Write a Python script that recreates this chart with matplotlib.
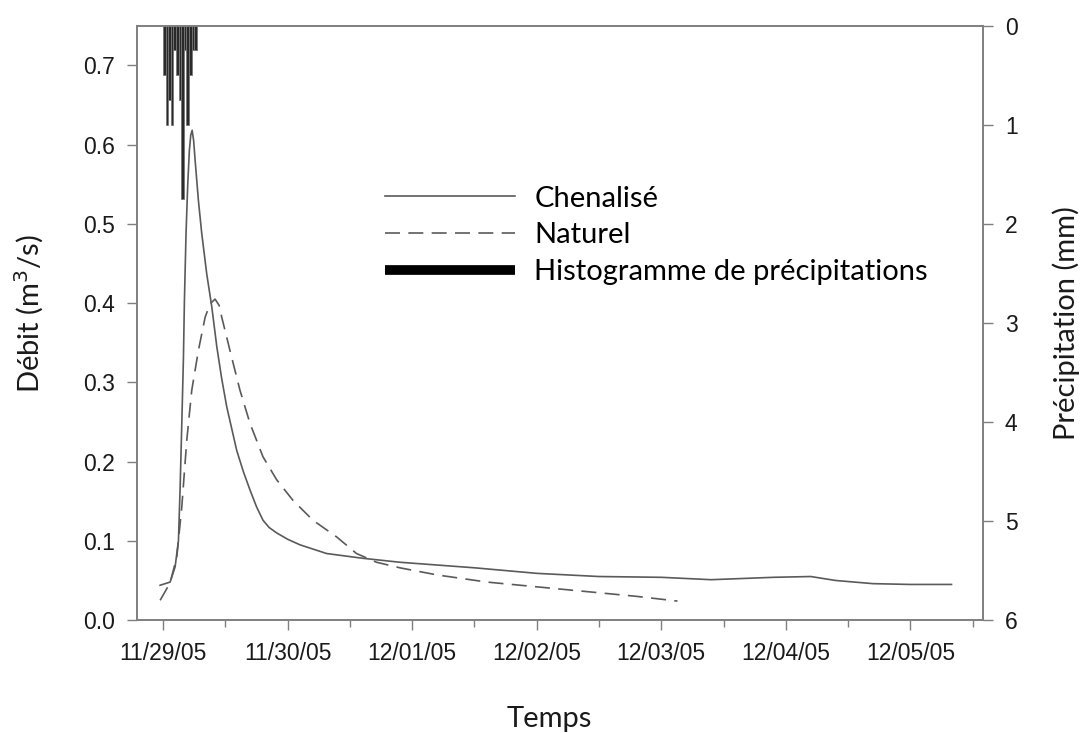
import matplotlib
matplotlib.use("Agg")
import matplotlib.pyplot as plt
from matplotlib.lines import Line2D

# Temps en jours depuis le 11/29/05 00:00
jours_chenalise = [-0.024, 0.056, 0.096, 0.123, 0.136, 0.150, 0.163, 0.171, 0.184, 0.198,
                   0.211, 0.222, 0.233, 0.245, 0.257, 0.283, 0.310, 0.350, 0.391, 0.431,
                   0.470, 0.511, 0.591, 0.645, 0.698, 0.750, 0.802, 0.850, 0.912, 1.000,
                   1.099, 1.313, 1.604, 1.901, 2.50, 3.00, 3.50, 4.00, 4.40, 4.90, 5.20,
                   5.40, 5.70, 6.00, 6.33]
debit_chenalise = [0.044, 0.048, 0.067, 0.100, 0.164, 0.248, 0.330, 0.403, 0.488, 0.551,
                   0.593, 0.612, 0.618, 0.605, 0.580, 0.530, 0.488, 0.437, 0.395, 0.345,
                   0.305, 0.269, 0.214, 0.187, 0.164, 0.143, 0.126, 0.117, 0.110, 0.102,
                   0.095, 0.084, 0.078, 0.073, 0.066, 0.059, 0.055, 0.054, 0.051, 0.054,
                   0.055, 0.050, 0.046, 0.045, 0.045]

jours_naturel = [-0.024, 0.056, 0.110, 0.150, 0.190, 0.230, 0.283, 0.337, 0.377, 0.417,
                 0.450, 0.471, 0.537, 0.617, 0.698, 0.802, 0.912, 1.043, 1.203, 1.393,
                 1.553, 1.714, 1.901, 2.20, 2.60, 3.00, 3.40, 3.80, 4.13]
debit_naturel = [0.025, 0.047, 0.080, 0.143, 0.227, 0.290, 0.340, 0.382, 0.399, 0.405,
                 0.397, 0.382, 0.340, 0.290, 0.248, 0.206, 0.177, 0.151, 0.126, 0.105,
                 0.084, 0.073, 0.066, 0.057, 0.048, 0.042, 0.036, 0.030, 0.024]

# Histogramme de précipitations (pas de 30 min)
heures_pluie = [0.0, 0.5, 1.0, 1.5, 2.0, 2.5, 3.0, 3.5, 4.0, 4.5, 5.0, 5.5, 6.0]
pluie_mm = [0.5, 1.0, 0.75, 1.0, 0.25, 0.5, 0.75, 1.75, 0.25, 1.0, 0.5, 0.25, 0.25]

dates = ["11/29/05", "11/30/05", "12/01/05", "12/02/05", "12/03/05", "12/04/05", "12/05/05"]

plt.rcParams['font.family'] = ['Liberation Sans', 'DejaVu Sans']
police_titres = 'Lato'
gris_axe = '#7f7f7f'
gris_courbe = '#5a5a5a'

fig = plt.figure(figsize=(10.87, 7.33), dpi=100)
ax = fig.add_axes([0.126, 0.154, 0.778, 0.811])
ax2 = ax.twinx()

# Courbes de débit
l1, = ax.plot(jours_chenalise, debit_chenalise, color=gris_courbe, linewidth=1.2, label="Chenalisé")
l2, = ax.plot(jours_naturel, debit_naturel, color=gris_courbe, linewidth=1.2,
              dashes=(9, 5), label="Naturel")

# Précipitations sur l'axe de droite (inversé)
x_pluie = [h / 24.0 for h in heures_pluie]
ax2.bar(x_pluie, pluie_mm, width=0.5 / 24.0, bottom=0, align='edge',
        color='#2a2a2a', edgecolor='#777777', linewidth=0.6)

ax.set_xlim(-0.21, 6.58)
ax.set_ylim(0, 0.75)
ax2.set_ylim(6, 0)

ax.set_xticks(range(len(dates)))
ax.set_xticklabels(dates)
ax.set_xticks([i + 0.5 for i in range(len(dates) - 1)] + [6.5], minor=True)
ax.set_yticks([0.0, 0.1, 0.2, 0.3, 0.4, 0.5, 0.6, 0.7])
ax.set_yticklabels(["0.0", "0.1", "0.2", "0.3", "0.4", "0.5", "0.6", "0.7"])
ax2.set_yticks(range(7))

for a in (ax, ax2):
    for s in a.spines.values():
        s.set_color(gris_axe)
        s.set_linewidth(1.2)
ax.tick_params(axis='both', which='major', length=7, width=1, color=gris_axe,
               labelsize=16.5, pad=9, labelcolor='#1a1a1a')
ax.tick_params(axis='x', which='minor', length=5, width=1, color=gris_axe)
ax2.tick_params(axis='y', length=7, width=1, color=gris_axe, labelsize=16.5, pad=9,
                labelcolor='#1a1a1a')

ax.set_xlabel("Temps", fontsize=21, family=police_titres, color='#1a1a1a')
ax.set_ylabel("Débit (m$^3$/s)", fontsize=21, family=police_titres, color='#1a1a1a')
ax2.set_ylabel("Précipitation (mm)", fontsize=21, family=police_titres, color='#1a1a1a')
ax.xaxis.set_label_coords(0.488, -0.145)
ax.yaxis.set_label_coords(-0.108, 0.516)
ax2.yaxis.set_label_coords(1.082, 0.5)

proxy = Line2D([], [], color='black', linewidth=7, solid_capstyle='butt')
ax2.legend([l1, l2, proxy], ["Chenalisé", "Naturel", "Histogramme de précipitations"],
           loc='upper left', bbox_to_anchor=(0.293, 0.731), frameon=False,
           borderpad=0, borderaxespad=0, handlelength=4.45, handletextpad=0.68,
           labelspacing=0.37, prop={'family': police_titres, 'size': 21})

fig.savefig("out.png", dpi=100)
